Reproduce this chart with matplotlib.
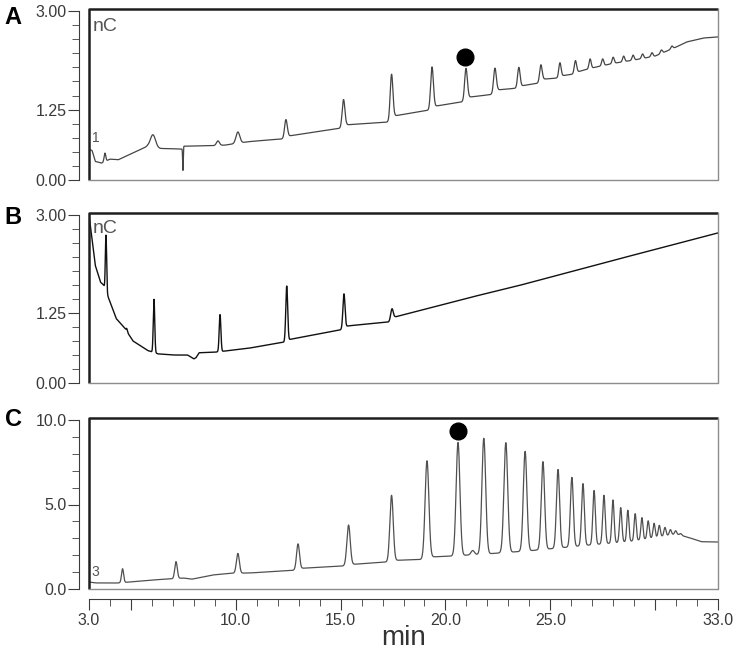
import numpy as np
import matplotlib
matplotlib.use("Agg")
from matplotlib import pyplot as plt
from matplotlib.ticker import FixedLocator, MultipleLocator

plt.rcParams['font.family'] = ['Liberation Sans', 'DejaVu Sans']

# retention time grid (min)
t = np.linspace(3.0, 33.0, 6001)

# ---- panel A: baseline anchors and peaks (time, height above baseline, sigma)
a_base_t = [3.0, 3.15, 3.3, 3.6, 4.0, 4.4, 5.2, 5.8, 6.4, 7.45, 7.52, 8.9, 9.5,
            10.6, 11.5, 12.3, 12.5, 15.0, 15.3, 17.3, 17.6, 19.2, 19.5, 20.85,
            21.1, 22.25, 22.5, 23.4, 23.6, 24.45, 24.65, 25.35, 25.55, 26.1,
            26.3, 27.0, 28.0, 29.0, 30.0, 31.0, 31.5, 32.3, 33.0]
a_base_v = [0.55, 0.52, 0.33, 0.30, 0.37, 0.36, 0.50, 0.60, 0.56, 0.55, 0.60,
            0.61, 0.62, 0.68, 0.71, 0.73, 0.78, 0.92, 0.98, 1.03, 1.14, 1.24,
            1.31, 1.39, 1.47, 1.52, 1.60, 1.63, 1.67, 1.72, 1.79, 1.81, 1.85,
            1.88, 1.92, 1.99, 2.07, 2.13, 2.20, 2.36, 2.45, 2.52, 2.54]
a_peak_t = [3.76, 6.05, 7.48, 9.15, 10.1, 12.39, 15.14, 17.43, 19.36, 20.98,
            22.36, 23.5, 24.55, 25.46, 26.2, 26.9, 27.5, 28.0, 28.5, 28.95,
            29.4, 29.85, 30.3, 30.8]
a_peak_h = [0.15, 0.22, -0.40, 0.08, 0.20, 0.32, 0.48, 0.80, 0.73, 0.55,
            0.43, 0.35, 0.29, 0.25, 0.22, 0.17, 0.12, 0.11, 0.10, 0.09,
            0.08, 0.07, 0.06, 0.05]
a_peak_s = [0.04, 0.12, 0.015, 0.07, 0.09, 0.065, 0.065, 0.065, 0.065, 0.065,
            0.065, 0.06, 0.06, 0.055, 0.055, 0.05, 0.05, 0.05, 0.05, 0.05,
            0.05, 0.05, 0.05, 0.05]
a_dot = (20.93, 2.18)

# ---- panel B
b_base_t = [3.0, 3.05, 3.3, 3.55, 3.7, 3.95, 4.3, 4.7, 5.1, 5.8, 6.3, 7.0,
            7.7, 8.0, 8.1, 8.25, 9.0, 10.6, 12.3, 12.6, 15.0, 15.35, 17.3,
            17.6, 21.2, 23.4, 27.7, 33.0]
b_base_v = [3.0, 2.85, 2.10, 1.80, 1.75, 1.50, 1.15, 0.98, 0.75, 0.58, 0.52,
            0.50, 0.50, 0.43, 0.45, 0.54, 0.55, 0.62, 0.73, 0.78, 0.95, 1.02,
            1.09, 1.18, 1.53, 1.73, 2.16, 2.68]
b_peak_t = [3.81, 4.8, 6.1, 9.25, 12.43, 15.16, 17.45]
b_peak_h = [1.00, 0.05, 0.95, 0.66, 0.98, 0.61, 0.19]
b_peak_s = [0.03, 0.03, 0.035, 0.04, 0.045, 0.05, 0.06]

# ---- panel C
c_base_t = [3.0, 3.3, 4.3, 4.9, 6.0, 7.5, 7.9, 8.9, 9.8, 10.7, 12.7, 13.2,
            15.1, 15.6, 17.2, 17.7, 18.9, 19.4, 20.3, 22.0, 23.0, 24.0, 25.0,
            26.0, 27.0, 28.0, 29.0, 30.0, 31.0, 31.6, 32.2, 33.0]
c_base_v = [0.41, 0.36, 0.35, 0.41, 0.53, 0.65, 0.58, 0.83, 0.93, 0.95, 1.10,
            1.23, 1.36, 1.46, 1.60, 1.70, 1.75, 1.90, 1.95, 2.08, 2.17, 2.26,
            2.38, 2.50, 2.62, 2.72, 2.85, 3.05, 3.25, 3.05, 2.80, 2.78]
c_peak_t = [4.6, 7.15, 10.1, 12.97, 15.38, 17.43, 19.12, 20.6, 21.3, 21.83,
            22.88, 23.8, 24.65, 25.37, 26.03, 26.56, 27.09, 27.56, 27.99,
            28.36, 28.7, 29.05, 29.37, 29.67, 29.95, 30.2, 30.47, 30.73,
            30.98, 31.22]
c_peak_h = [0.82, 1.00, 1.17, 1.50, 2.37, 3.90, 5.77, 6.70, 0.25, 6.85,
            6.50, 5.90, 5.20, 4.65, 4.10, 3.67, 3.20, 2.87, 2.55, 2.05, 1.85,
            1.60, 1.30, 1.05, 0.85, 0.68, 0.50, 0.32, 0.20, 0.10]
c_peak_s = [0.05, 0.06, 0.07, 0.07, 0.08, 0.08, 0.09, 0.09, 0.08, 0.09,
            0.09, 0.085, 0.08, 0.075, 0.07, 0.065, 0.06, 0.06, 0.055, 0.055,
            0.05, 0.05, 0.05, 0.05, 0.05, 0.05, 0.05, 0.05, 0.05, 0.05]
c_dot = (20.6, 9.35)

x_major = [3, 5, 10, 15, 20, 25, 30, 33]
x_labels = ['3.0', '', '10.0', '15.0', '20.0', '25.0', '', '33.0']


def trace(base_t, base_v, peak_t, peak_h, peak_s):
    y = np.interp(t, base_t, base_v)
    for tp, h, s in zip(peak_t, peak_h, peak_s):
        y = y + h * np.exp(-0.5 * ((t - tp) / s) ** 2)
    return y


W, H = 735, 652
fig = plt.figure(figsize=(W / 100, H / 100), dpi=100)

tick_col = '#3c3c3c'
lab_col = '#3a3a3a'


def make_ax(bottom_px, height_px):
    return fig.add_axes([89 / W, (H - bottom_px) / H, 629 / W, height_px / H])


def style(ax, ymax, top, yticks, ylabels, yminor):
    ax.set_xlim(3, 33)
    ax.set_ylim(0, top)
    for s in ['top', 'right', 'bottom']:
        ax.spines[s].set_visible(False)
    ax.spines['left'].set_position(('outward', 7))
    ax.spines['left'].set_bounds(0, ymax)
    ax.spines['left'].set_color(tick_col)
    ax.yaxis.set_major_locator(FixedLocator(yticks))
    ax.set_yticklabels(ylabels)
    ax.yaxis.set_minor_locator(MultipleLocator(yminor))
    ax.tick_params(axis='y', which='major', length=8, color=tick_col,
                   labelsize=11.5, labelcolor=lab_col, pad=1)
    ax.tick_params(axis='y', which='minor', length=5, color=tick_col)
    # sunken frame: dark top/left, grey bottom/right
    ax.plot([0, 0, 1], [0, 1, 1], transform=ax.transAxes, color='#1e1e1e',
            lw=1.8, clip_on=False, solid_capstyle='butt')
    ax.plot([0, 1, 1], [0, 0, 1], transform=ax.transAxes, color='#8c8c8c',
            lw=1.0, clip_on=False)


# panel A
axA = make_ax(180, 171)
axA.plot(t, trace(a_base_t, a_base_v, a_peak_t, a_peak_h, a_peak_s),
         color='#454545', lw=0.9)
axA.plot(*a_dot, 'o', color='black', ms=12)
style(axA, 3.0, 3.0 * 171 / 169, [0, 1.25, 3.0], ['0.00', '1.25', '3.00'], 0.25)
axA.set_xticks([])
axA.text(0.006, 0.895, 'nC', transform=axA.transAxes, fontsize=14,
         color='#555555', va='center')
axA.text(0.004, 0.245, '1', transform=axA.transAxes, fontsize=10,
         color='#555555', va='center')

# panel B
axB = make_ax(383, 170)
axB.plot(t, trace(b_base_t, b_base_v, b_peak_t, b_peak_h, b_peak_s),
         color='#111111', lw=1.0)
style(axB, 3.0, 3.0 * 170 / 168, [0, 1.25, 3.0], ['0.00', '1.25', '3.00'], 0.25)
axB.set_xticks([])
axB.text(0.006, 0.91, 'nC', transform=axB.transAxes, fontsize=14,
         color='#555555', va='center')

# panel C
axC = make_ax(589, 171)
axC.plot(t, trace(c_base_t, c_base_v, c_peak_t, c_peak_h, c_peak_s),
         color='#505050', lw=0.9)
axC.plot(*c_dot, 'o', color='black', ms=12)
style(axC, 10.0, 10.0 * 171 / 169, [0, 5, 10], ['0.0', '5.0', '10.0'], 1.0)
axC.spines['bottom'].set_visible(True)
axC.spines['bottom'].set_position(('outward', 7))
axC.spines['bottom'].set_color(tick_col)
axC.xaxis.set_major_locator(FixedLocator(x_major))
axC.set_xticklabels(x_labels)
axC.xaxis.set_minor_locator(MultipleLocator(1))
axC.tick_params(axis='x', which='major', length=8, color=tick_col,
                labelsize=11.5, labelcolor=lab_col, pad=2)
axC.tick_params(axis='x', which='minor', length=5, color=tick_col)
axC.set_xlabel('min', fontsize=20, color='#333333', labelpad=-2)
axC.text(0.004, 0.10, '3', transform=axC.transAxes, fontsize=10,
         color='#555555', va='center')

# panel letters
for lab, ypx in [('A', 17), ('B', 217), ('C', 419)]:
    fig.text(13 / W, 1 - ypx / H, lab, fontsize=17, fontweight='bold',
             ha='center', va='center')

fig.savefig('out.png', dpi=100)
